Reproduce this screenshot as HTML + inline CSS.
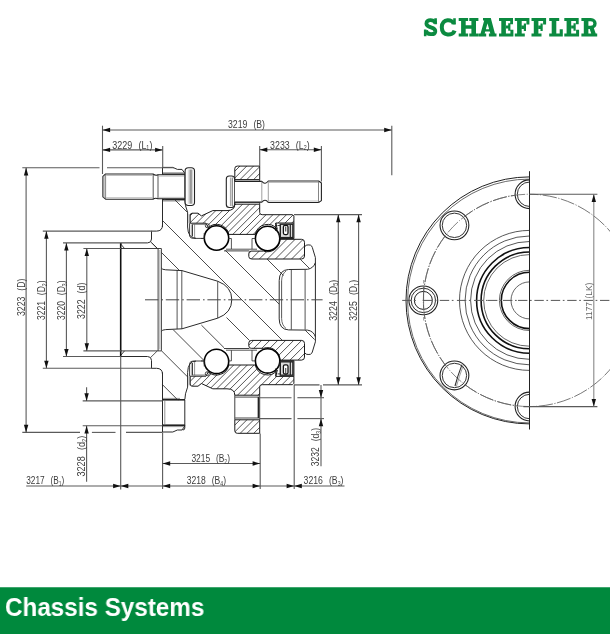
<!DOCTYPE html>
<html><head><meta charset="utf-8">
<style>
html,body{margin:0;padding:0;background:#fff;}
body{width:610px;height:634px;position:relative;overflow:hidden;font-family:"Liberation Sans",sans-serif;}
#foot{position:absolute;left:0;top:587px;width:610px;height:47px;background:#00893d;border-top:1px solid #40a66e;box-sizing:border-box;}
#foot span{position:absolute;left:5px;top:4px;color:#fff;font-weight:bold;font-size:26px;line-height:30px;white-space:nowrap;transform-origin:0 0;transform:scaleX(0.932);}
svg{position:absolute;left:0;top:0;}
#dwg text{opacity:0.999;}
#dwg{filter:blur(0.3px);}
#foot span{will-change:transform;}
</style></head><body>

<svg id="dwg" width="610" height="634" viewBox="0 0 610 634">
<defs>
<clipPath id="cu"><path d="M190.2,215.4 Q190.2,213.2 192.2,213.2 L198,213.2 L201.4,215.9 L212.8,210.6 L227,210.6 Q234.8,210.6 234.8,204.2 L259.7,204.2 L259.7,212.6 Q259.7,214.7 262.2,214.7 L292.5,214.7 L293.9,216.1 L293.9,223 L275.8,223 L277.3,229.3 A12.4,12.4 0 0 0 255.3,234.4 L228.8,234.4 A12.4,12.4 0 0 0 208.3,227.6 L206,223.2 L190.2,223.2 Z"/><path d="M234.8,179.6 L234.8,168.6 Q234.8,166.1 237.3,166.1 L259.7,166.1 L259.7,179.6 Z"/></clipPath>
<clipPath id="cl"><path transform="matrix(1 0 0 -1 0 599.4)" d="M190.2,215.4 Q190.2,213.2 192.2,213.2 L198,213.2 L201.4,215.9 L212.8,210.6 L227,210.6 Q234.8,210.6 234.8,204.2 L259.7,204.2 L259.7,212.6 Q259.7,214.7 262.2,214.7 L292.5,214.7 L293.9,216.1 L293.9,223 L275.8,223 L277.3,229.3 A12.4,12.4 0 0 0 255.3,234.4 L228.8,234.4 A12.4,12.4 0 0 0 208.3,227.6 L206,223.2 L190.2,223.2 Z"/><path transform="matrix(1 0 0 -1 0 599.4)" d="M234.8,179.6 L234.8,168.6 Q234.8,166.1 237.3,166.1 L259.7,166.1 L259.7,179.6 Z"/></clipPath>
<clipPath id="iu"><path d="M248.8,253.6 Q248.8,251.1 251.2,251.1 L263.5,251.1 A12.4,12.4 0 0 0 279.9,240.4 L280.2,239.3 L301.5,239.3 Q304.5,239.3 304.5,242.3 L304.5,256 Q304.5,259 301.5,259 L251.8,259 Q248.8,259 248.8,256.5 Z"/></clipPath>
<clipPath id="il"><path transform="matrix(1 0 0 -1 0 599.4)" d="M248.8,253.6 Q248.8,251.1 251.2,251.1 L263.5,251.1 A12.4,12.4 0 0 0 279.9,240.4 L280.2,239.3 L301.5,239.3 Q304.5,239.3 304.5,242.3 L304.5,256 Q304.5,259 301.5,259 L251.8,259 Q248.8,259 248.8,256.5 Z"/></clipPath>
</defs>
<g clip-path="url(#cu)" stroke="#2a2a2a" stroke-width="0.8">
<line x1="104.80" y1="240.00" x2="184.80" y2="160.00"/>
<line x1="111.60" y1="240.00" x2="191.60" y2="160.00"/>
<line x1="118.40" y1="240.00" x2="198.40" y2="160.00"/>
<line x1="125.20" y1="240.00" x2="205.20" y2="160.00"/>
<line x1="132.00" y1="240.00" x2="212.00" y2="160.00"/>
<line x1="138.80" y1="240.00" x2="218.80" y2="160.00"/>
<line x1="145.60" y1="240.00" x2="225.60" y2="160.00"/>
<line x1="152.40" y1="240.00" x2="232.40" y2="160.00"/>
<line x1="159.20" y1="240.00" x2="239.20" y2="160.00"/>
<line x1="166.00" y1="240.00" x2="246.00" y2="160.00"/>
<line x1="172.80" y1="240.00" x2="252.80" y2="160.00"/>
<line x1="179.60" y1="240.00" x2="259.60" y2="160.00"/>
<line x1="186.40" y1="240.00" x2="266.40" y2="160.00"/>
<line x1="193.20" y1="240.00" x2="273.20" y2="160.00"/>
<line x1="200.00" y1="240.00" x2="280.00" y2="160.00"/>
<line x1="206.80" y1="240.00" x2="286.80" y2="160.00"/>
<line x1="213.60" y1="240.00" x2="293.60" y2="160.00"/>
<line x1="220.40" y1="240.00" x2="300.40" y2="160.00"/>
<line x1="227.20" y1="240.00" x2="307.20" y2="160.00"/>
<line x1="234.00" y1="240.00" x2="314.00" y2="160.00"/>
<line x1="240.80" y1="240.00" x2="320.80" y2="160.00"/>
<line x1="247.60" y1="240.00" x2="327.60" y2="160.00"/>
<line x1="254.40" y1="240.00" x2="334.40" y2="160.00"/>
<line x1="261.20" y1="240.00" x2="341.20" y2="160.00"/>
<line x1="268.00" y1="240.00" x2="348.00" y2="160.00"/>
<line x1="274.80" y1="240.00" x2="354.80" y2="160.00"/>
<line x1="281.60" y1="240.00" x2="361.60" y2="160.00"/>
<line x1="288.40" y1="240.00" x2="368.40" y2="160.00"/>
<line x1="295.20" y1="240.00" x2="375.20" y2="160.00"/>
<line x1="302.00" y1="240.00" x2="382.00" y2="160.00"/>
</g>
<g clip-path="url(#cl)" stroke="#2a2a2a" stroke-width="0.8">
<line x1="104.30" y1="440.00" x2="184.30" y2="360.00"/>
<line x1="111.10" y1="440.00" x2="191.10" y2="360.00"/>
<line x1="117.90" y1="440.00" x2="197.90" y2="360.00"/>
<line x1="124.70" y1="440.00" x2="204.70" y2="360.00"/>
<line x1="131.50" y1="440.00" x2="211.50" y2="360.00"/>
<line x1="138.30" y1="440.00" x2="218.30" y2="360.00"/>
<line x1="145.10" y1="440.00" x2="225.10" y2="360.00"/>
<line x1="151.90" y1="440.00" x2="231.90" y2="360.00"/>
<line x1="158.70" y1="440.00" x2="238.70" y2="360.00"/>
<line x1="165.50" y1="440.00" x2="245.50" y2="360.00"/>
<line x1="172.30" y1="440.00" x2="252.30" y2="360.00"/>
<line x1="179.10" y1="440.00" x2="259.10" y2="360.00"/>
<line x1="185.90" y1="440.00" x2="265.90" y2="360.00"/>
<line x1="192.70" y1="440.00" x2="272.70" y2="360.00"/>
<line x1="199.50" y1="440.00" x2="279.50" y2="360.00"/>
<line x1="206.30" y1="440.00" x2="286.30" y2="360.00"/>
<line x1="213.10" y1="440.00" x2="293.10" y2="360.00"/>
<line x1="219.90" y1="440.00" x2="299.90" y2="360.00"/>
<line x1="226.70" y1="440.00" x2="306.70" y2="360.00"/>
<line x1="233.50" y1="440.00" x2="313.50" y2="360.00"/>
<line x1="240.30" y1="440.00" x2="320.30" y2="360.00"/>
<line x1="247.10" y1="440.00" x2="327.10" y2="360.00"/>
<line x1="253.90" y1="440.00" x2="333.90" y2="360.00"/>
<line x1="260.70" y1="440.00" x2="340.70" y2="360.00"/>
<line x1="267.50" y1="440.00" x2="347.50" y2="360.00"/>
<line x1="274.30" y1="440.00" x2="354.30" y2="360.00"/>
<line x1="281.10" y1="440.00" x2="361.10" y2="360.00"/>
<line x1="287.90" y1="440.00" x2="367.90" y2="360.00"/>
<line x1="294.70" y1="440.00" x2="374.70" y2="360.00"/>
<line x1="301.50" y1="440.00" x2="381.50" y2="360.00"/>
</g>
<g clip-path="url(#iu)" stroke="#2a2a2a" stroke-width="0.8">
<line x1="216.10" y1="262.00" x2="242.10" y2="236.00"/>
<line x1="224.15" y1="262.00" x2="250.15" y2="236.00"/>
<line x1="232.20" y1="262.00" x2="258.20" y2="236.00"/>
<line x1="240.25" y1="262.00" x2="266.25" y2="236.00"/>
<line x1="248.30" y1="262.00" x2="274.30" y2="236.00"/>
<line x1="256.35" y1="262.00" x2="282.35" y2="236.00"/>
<line x1="264.40" y1="262.00" x2="290.40" y2="236.00"/>
<line x1="272.45" y1="262.00" x2="298.45" y2="236.00"/>
<line x1="280.50" y1="262.00" x2="306.50" y2="236.00"/>
<line x1="288.55" y1="262.00" x2="314.55" y2="236.00"/>
<line x1="296.60" y1="262.00" x2="322.60" y2="236.00"/>
<line x1="304.65" y1="262.00" x2="330.65" y2="236.00"/>
<line x1="312.70" y1="262.00" x2="338.70" y2="236.00"/>
</g>
<g clip-path="url(#il)" stroke="#2a2a2a" stroke-width="0.8">
<line x1="214.10" y1="364.00" x2="240.10" y2="338.00"/>
<line x1="222.10" y1="364.00" x2="248.10" y2="338.00"/>
<line x1="230.10" y1="364.00" x2="256.10" y2="338.00"/>
<line x1="238.10" y1="364.00" x2="264.10" y2="338.00"/>
<line x1="246.10" y1="364.00" x2="272.10" y2="338.00"/>
<line x1="254.10" y1="364.00" x2="280.10" y2="338.00"/>
<line x1="262.10" y1="364.00" x2="288.10" y2="338.00"/>
<line x1="270.10" y1="364.00" x2="296.10" y2="338.00"/>
<line x1="278.10" y1="364.00" x2="304.10" y2="338.00"/>
<line x1="286.10" y1="364.00" x2="312.10" y2="338.00"/>
<line x1="294.10" y1="364.00" x2="320.10" y2="338.00"/>
<line x1="302.10" y1="364.00" x2="328.10" y2="338.00"/>
<line x1="310.10" y1="364.00" x2="336.10" y2="338.00"/>
</g>
<g id="up"><path d="M190.2,215.4 Q190.2,213.2 192.2,213.2 L198,213.2 L201.4,215.9 L212.8,210.6 L227,210.6 Q234.8,210.6 234.8,204.2 L259.7,204.2 L259.7,212.6 Q259.7,214.7 262.2,214.7 L292.5,214.7 L293.9,216.1 L293.9,223 L275.8,223 L277.3,229.3 A12.4,12.4 0 0 0 255.3,234.4 L228.8,234.4 A12.4,12.4 0 0 0 208.3,227.6 L206,223.2 L190.2,223.2 Z" stroke="#1a1a1a" stroke-width="1.0" fill="none" stroke-linejoin="round"/>
<path d="M234.8,179.6 L234.8,168.6 Q234.8,166.1 237.3,166.1 L259.7,166.1 L259.7,179.6 Z" stroke="#1a1a1a" stroke-width="1.0" fill="none" stroke-linejoin="round"/>
<line x1="259.7" y1="179.6" x2="259.7" y2="204.2" stroke="#2a2a2a" stroke-width="0.9"/>
<line x1="234.8" y1="179.6" x2="234.8" y2="204.2" stroke="#2a2a2a" stroke-width="0.9"/>
<line x1="234.8" y1="181.4" x2="259.7" y2="181.4" stroke="#666" stroke-width="1.2"/>
<line x1="234.8" y1="202.3" x2="259.7" y2="202.3" stroke="#666" stroke-width="1.2"/>
<line x1="258.4" y1="181.4" x2="258.4" y2="202.3" stroke="#222" stroke-width="1.5"/>
<path d="M248.8,253.6 Q248.8,251.1 251.2,251.1 L263.5,251.1 A12.4,12.4 0 0 0 279.9,240.4 L280.2,239.3 L301.5,239.3 Q304.5,239.3 304.5,242.3 L304.5,256 Q304.5,259 301.5,259 L251.8,259 Q248.8,259 248.8,256.5 Z" stroke="#1a1a1a" stroke-width="1.0" fill="none" stroke-linejoin="round"/>
<circle cx="216.5" cy="238.0" r="12.2" stroke="#000" stroke-width="1.6" fill="#fff"/>
<circle cx="267.6" cy="238.5" r="12.2" stroke="#000" stroke-width="1.6" fill="#fff"/>
<path d="M228.2,238.5 L231.4,238.5 L231.4,249.2 L226,249.2" stroke="#2a2a2a" stroke-width="0.8" fill="none" stroke-linejoin="round"/>
<path d="M255.4,238.5 L252,238.5 L252,249.2 L257,249.2" stroke="#2a2a2a" stroke-width="0.8" fill="none" stroke-linejoin="round"/>
<line x1="231.4" y1="249.2" x2="252" y2="249.2" stroke="#2a2a2a" stroke-width="0.8"/>
<line x1="224" y1="250.9" x2="249.3" y2="250.9" stroke="#2a2a2a" stroke-width="0.9"/>
<line x1="205" y1="238.5" x2="201" y2="238.5" stroke="#2a2a2a" stroke-width="0.8"/>
<path d="M204.2,238.5 L204.2,233" stroke="#2a2a2a" stroke-width="0.8" fill="none" stroke-linejoin="round"/>
<circle cx="207.3" cy="225.7" r="2.0" stroke="#2a2a2a" stroke-width="0.9" fill="none"/>
<path d="M189.6,223.2 L189.6,236 Q190,238.4 193.5,238.4 L204,238.4" stroke="#2a2a2a" stroke-width="0.9" fill="none" stroke-linejoin="round"/>
<line x1="192.3" y1="224.2" x2="192.3" y2="236.5" stroke="#333" stroke-width="1.3"/>
<line x1="194.6" y1="224.2" x2="194.6" y2="238.2" stroke="#666" stroke-width="0.7"/>
<line x1="192.3" y1="224.4" x2="205" y2="224.4" stroke="#555" stroke-width="0.7"/>
<path d="M275.8,223 L275.8,231 M279.5,238.6 L293.9,238.6 L293.9,223" stroke="#111" stroke-width="1.0" fill="none" stroke-linejoin="round"/>
<rect x="280.3" y="224.2" width="12.6" height="13.4" fill="#ddd" stroke="#222" stroke-width="1.4"/>
<rect x="283.4" y="225.4" width="4.6" height="9.2" rx="1.5" fill="#fff" stroke="#111" stroke-width="1.3"/>
<path d="M285.7,226.5 L285.7,231.5" stroke="#555" stroke-width="1.2"/>
<line x1="290.3" y1="224.5" x2="290.3" y2="237.5" stroke="#222" stroke-width="1.2"/>
<line x1="277.5" y1="225.5" x2="280.3" y2="225.5" stroke="#2a2a2a" stroke-width="0.9"/>
<line x1="278.5" y1="233" x2="280.5" y2="236.5" stroke="#2a2a2a" stroke-width="0.9"/>
<path d="M162.5,227 L162.5,167.4 L172.8,167.4 L177.4,169.4 L182,169.4 L185,173.6" stroke="#2a2a2a" stroke-width="1.0" fill="none" stroke-linejoin="round"/>
<path d="M162.5,174.2 L185,174.2" stroke="#222" stroke-width="1.6" fill="none" stroke-linejoin="round"/>
<path d="M162.5,199.6 L185,199.6" stroke="#222" stroke-width="1.6" fill="none" stroke-linejoin="round"/>
<line x1="163" y1="172.8" x2="184" y2="172.8" stroke="#888" stroke-width="0.9"/>
<line x1="163" y1="201" x2="180" y2="201" stroke="#888" stroke-width="0.9"/>
<line x1="164.8" y1="174.2" x2="164.8" y2="199.6" stroke="#777" stroke-width="0.8"/>
<path d="M184.9,200.2 L185.5,205.6 L187.6,212.3 L187.6,227 Q188,238.3 196,238.3" stroke="#2a2a2a" stroke-width="1.0" fill="none" stroke-linejoin="round"/>
<path d="M189.2,214 L189.2,223" stroke="#666" stroke-width="0.7" fill="none" stroke-linejoin="round"/>
<path d="M162.5,225 Q162.5,231.1 156.5,231.1 L151.5,231.1 L151.5,239 Q151.5,242.9 147.5,242.9 L121,242.9" stroke="#2a2a2a" stroke-width="1.0" fill="none" stroke-linejoin="round"/>
<path d="M120.7,244 L124.5,248.5 M120.7,248.5 L161.3,248.5" stroke="#2a2a2a" stroke-width="0.9" fill="none" stroke-linejoin="round"/>
<path d="M151,242.3 L157.2,248.4" stroke="#2a2a2a" stroke-width="0.8" fill="none" stroke-linejoin="round"/>
<path d="M304.6,246.8 Q306,244.7 308.1,244.9 L310.4,245.1 Q311.7,245.5 312.3,247.4 L315.4,257.6" stroke="#2a2a2a" stroke-width="1.0" fill="none" stroke-linejoin="round"/>
<path d="M315.4,262.6 Q313.6,268.3 307.5,269.3 L288.5,269.5 Q279.3,270 279.2,280.5" stroke="#2a2a2a" stroke-width="1.0" fill="none" stroke-linejoin="round"/>
<path d="M281.6,281 Q281.8,274 286,271" stroke="#444" stroke-width="0.8" fill="none" stroke-linejoin="round"/></g>
<g transform="matrix(1 0 0 -1 0 599.4)"><path d="M190.2,215.4 Q190.2,213.2 192.2,213.2 L198,213.2 L201.4,215.9 L212.8,210.6 L227,210.6 Q234.8,210.6 234.8,204.2 L259.7,204.2 L259.7,212.6 Q259.7,214.7 262.2,214.7 L292.5,214.7 L293.9,216.1 L293.9,223 L275.8,223 L277.3,229.3 A12.4,12.4 0 0 0 255.3,234.4 L228.8,234.4 A12.4,12.4 0 0 0 208.3,227.6 L206,223.2 L190.2,223.2 Z" stroke="#1a1a1a" stroke-width="1.0" fill="none" stroke-linejoin="round"/>
<path d="M234.8,179.6 L234.8,168.6 Q234.8,166.1 237.3,166.1 L259.7,166.1 L259.7,179.6 Z" stroke="#1a1a1a" stroke-width="1.0" fill="none" stroke-linejoin="round"/>
<line x1="259.7" y1="179.6" x2="259.7" y2="204.2" stroke="#2a2a2a" stroke-width="0.9"/>
<line x1="234.8" y1="179.6" x2="234.8" y2="204.2" stroke="#2a2a2a" stroke-width="0.9"/>
<line x1="234.8" y1="181.4" x2="259.7" y2="181.4" stroke="#666" stroke-width="1.2"/>
<line x1="234.8" y1="202.3" x2="259.7" y2="202.3" stroke="#666" stroke-width="1.2"/>
<line x1="258.4" y1="181.4" x2="258.4" y2="202.3" stroke="#222" stroke-width="1.5"/>
<path d="M248.8,253.6 Q248.8,251.1 251.2,251.1 L263.5,251.1 A12.4,12.4 0 0 0 279.9,240.4 L280.2,239.3 L301.5,239.3 Q304.5,239.3 304.5,242.3 L304.5,256 Q304.5,259 301.5,259 L251.8,259 Q248.8,259 248.8,256.5 Z" stroke="#1a1a1a" stroke-width="1.0" fill="none" stroke-linejoin="round"/>
<circle cx="216.5" cy="238.0" r="12.2" stroke="#000" stroke-width="1.6" fill="#fff"/>
<circle cx="267.6" cy="238.5" r="12.2" stroke="#000" stroke-width="1.6" fill="#fff"/>
<path d="M228.2,238.5 L231.4,238.5 L231.4,249.2 L226,249.2" stroke="#2a2a2a" stroke-width="0.8" fill="none" stroke-linejoin="round"/>
<path d="M255.4,238.5 L252,238.5 L252,249.2 L257,249.2" stroke="#2a2a2a" stroke-width="0.8" fill="none" stroke-linejoin="round"/>
<line x1="231.4" y1="249.2" x2="252" y2="249.2" stroke="#2a2a2a" stroke-width="0.8"/>
<line x1="224" y1="250.9" x2="249.3" y2="250.9" stroke="#2a2a2a" stroke-width="0.9"/>
<line x1="205" y1="238.5" x2="201" y2="238.5" stroke="#2a2a2a" stroke-width="0.8"/>
<path d="M204.2,238.5 L204.2,233" stroke="#2a2a2a" stroke-width="0.8" fill="none" stroke-linejoin="round"/>
<circle cx="207.3" cy="225.7" r="2.0" stroke="#2a2a2a" stroke-width="0.9" fill="none"/>
<path d="M189.6,223.2 L189.6,236 Q190,238.4 193.5,238.4 L204,238.4" stroke="#2a2a2a" stroke-width="0.9" fill="none" stroke-linejoin="round"/>
<line x1="192.3" y1="224.2" x2="192.3" y2="236.5" stroke="#333" stroke-width="1.3"/>
<line x1="194.6" y1="224.2" x2="194.6" y2="238.2" stroke="#666" stroke-width="0.7"/>
<line x1="192.3" y1="224.4" x2="205" y2="224.4" stroke="#555" stroke-width="0.7"/>
<path d="M275.8,223 L275.8,231 M279.5,238.6 L293.9,238.6 L293.9,223" stroke="#111" stroke-width="1.0" fill="none" stroke-linejoin="round"/>
<rect x="280.3" y="224.2" width="12.6" height="13.4" fill="#ddd" stroke="#222" stroke-width="1.4"/>
<rect x="283.4" y="225.4" width="4.6" height="9.2" rx="1.5" fill="#fff" stroke="#111" stroke-width="1.3"/>
<path d="M285.7,226.5 L285.7,231.5" stroke="#555" stroke-width="1.2"/>
<line x1="290.3" y1="224.5" x2="290.3" y2="237.5" stroke="#222" stroke-width="1.2"/>
<line x1="277.5" y1="225.5" x2="280.3" y2="225.5" stroke="#2a2a2a" stroke-width="0.9"/>
<line x1="278.5" y1="233" x2="280.5" y2="236.5" stroke="#2a2a2a" stroke-width="0.9"/>
<path d="M162.5,227 L162.5,167.4 L172.8,167.4 L177.4,169.4 L182,169.4 L185,173.6" stroke="#2a2a2a" stroke-width="1.0" fill="none" stroke-linejoin="round"/>
<path d="M162.5,174.2 L185,174.2" stroke="#222" stroke-width="1.6" fill="none" stroke-linejoin="round"/>
<path d="M162.5,199.6 L185,199.6" stroke="#222" stroke-width="1.6" fill="none" stroke-linejoin="round"/>
<line x1="163" y1="172.8" x2="184" y2="172.8" stroke="#888" stroke-width="0.9"/>
<line x1="163" y1="201" x2="180" y2="201" stroke="#888" stroke-width="0.9"/>
<line x1="164.8" y1="174.2" x2="164.8" y2="199.6" stroke="#777" stroke-width="0.8"/>
<path d="M184.9,200.2 L185.5,205.6 L187.6,212.3 L187.6,227 Q188,238.3 196,238.3" stroke="#2a2a2a" stroke-width="1.0" fill="none" stroke-linejoin="round"/>
<path d="M189.2,214 L189.2,223" stroke="#666" stroke-width="0.7" fill="none" stroke-linejoin="round"/>
<path d="M162.5,225 Q162.5,231.1 156.5,231.1 L151.5,231.1 L151.5,239 Q151.5,242.9 147.5,242.9 L121,242.9" stroke="#2a2a2a" stroke-width="1.0" fill="none" stroke-linejoin="round"/>
<path d="M120.7,244 L124.5,248.5 M120.7,248.5 L161.3,248.5" stroke="#2a2a2a" stroke-width="0.9" fill="none" stroke-linejoin="round"/>
<path d="M151,242.3 L157.2,248.4" stroke="#2a2a2a" stroke-width="0.8" fill="none" stroke-linejoin="round"/>
<path d="M304.6,246.8 Q306,244.7 308.1,244.9 L310.4,245.1 Q311.7,245.5 312.3,247.4 L315.4,257.6" stroke="#2a2a2a" stroke-width="1.0" fill="none" stroke-linejoin="round"/>
<path d="M315.4,262.6 Q313.6,268.3 307.5,269.3 L288.5,269.5 Q279.3,270 279.2,280.5" stroke="#2a2a2a" stroke-width="1.0" fill="none" stroke-linejoin="round"/>
<path d="M281.6,281 Q281.8,274 286,271" stroke="#444" stroke-width="0.8" fill="none" stroke-linejoin="round"/></g>
<line x1="120.70" y1="243.00" x2="120.70" y2="356.40" stroke="#111" stroke-width="1.6" />
<line x1="158.10" y1="248.50" x2="158.10" y2="350.90" stroke="#2a2a2a" stroke-width="0.9" />
<line x1="161.40" y1="248.50" x2="161.40" y2="350.90" stroke="#2a2a2a" stroke-width="0.9" />
<line x1="159.80" y1="250.00" x2="159.80" y2="349.40" stroke="#999" stroke-width="0.8" />
<path d="M161.4,268 Q162,269.6 165.7,269.8 L182,270.6 L217.6,281.2 Q231.8,286.5 231.8,299.7 Q231.8,312.9 217.6,318.2 L182,328.79999999999995 L165.7,329.59999999999997 Q162,329.79999999999995 161.4,331.4" stroke="#2a2a2a" stroke-width="1.0" fill="none" stroke-linejoin="round" />
<line x1="177.10" y1="270.40" x2="177.10" y2="329.00" stroke="#2a2a2a" stroke-width="0.8" />
<line x1="181.80" y1="270.60" x2="181.80" y2="328.80" stroke="#2a2a2a" stroke-width="0.8" />
<line x1="217.70" y1="281.20" x2="217.70" y2="318.20" stroke="#2a2a2a" stroke-width="0.8" />
<line x1="279.20" y1="280.50" x2="279.20" y2="318.90" stroke="#2a2a2a" stroke-width="1.0" />
<line x1="281.60" y1="281.00" x2="281.60" y2="318.40" stroke="#444" stroke-width="0.9" />
<line x1="291.30" y1="269.80" x2="291.30" y2="329.60" stroke="#2a2a2a" stroke-width="0.8" />
<line x1="305.10" y1="269.80" x2="305.10" y2="329.60" stroke="#2a2a2a" stroke-width="0.8" />
<line x1="315.40" y1="257.60" x2="315.40" y2="341.80" stroke="#2a2a2a" stroke-width="1.0" />
<line x1="174.60" y1="199.60" x2="187.60" y2="212.60" stroke="#2a2a2a" stroke-width="0.85" />
<line x1="225.30" y1="250.30" x2="279.20" y2="304.20" stroke="#2a2a2a" stroke-width="0.85" />
<line x1="267.00" y1="259.00" x2="283.50" y2="275.50" stroke="#2a2a2a" stroke-width="0.85" />
<line x1="300.40" y1="259.40" x2="309.40" y2="268.40" stroke="#2a2a2a" stroke-width="0.85" />
<line x1="305.20" y1="330.20" x2="314.60" y2="339.60" stroke="#2a2a2a" stroke-width="0.85" />
<line x1="162.50" y1="220.50" x2="282.30" y2="340.30" stroke="#2a2a2a" stroke-width="0.85" />
<line x1="151.50" y1="242.50" x2="157.50" y2="248.50" stroke="#2a2a2a" stroke-width="0.85" />
<line x1="161.40" y1="252.40" x2="179.40" y2="270.40" stroke="#2a2a2a" stroke-width="0.85" />
<line x1="226.50" y1="317.50" x2="249.50" y2="340.50" stroke="#2a2a2a" stroke-width="0.85" />
<line x1="201.40" y1="325.10" x2="224.00" y2="347.70" stroke="#2a2a2a" stroke-width="0.85" />
<line x1="173.20" y1="329.70" x2="204.20" y2="360.70" stroke="#2a2a2a" stroke-width="0.85" />
<line x1="161.60" y1="350.90" x2="187.60" y2="376.90" stroke="#2a2a2a" stroke-width="0.85" />
<line x1="162.50" y1="384.70" x2="178.00" y2="400.20" stroke="#2a2a2a" stroke-width="0.85" />
<path d="M184.8,399.8 L184.8,428 Q184.8,430 182.8,430" stroke="#2a2a2a" stroke-width="1.0" fill="none" stroke-linejoin="round" />
<path d="M105.6,174 L153,174 Q155.5,176 158,174.8 L185,174.8 L185,198.8 L158,198.8 Q155.5,197.5 153,199.2 L105.6,199.2 L102.9,196.8 L102.9,176.4 Z" stroke="#222" stroke-width="1.1" fill="#fff" stroke-linejoin="round" />
<line x1="105.60" y1="174.00" x2="105.60" y2="199.20" stroke="#666" stroke-width="0.8" />
<line x1="153.20" y1="174.30" x2="153.20" y2="199.00" stroke="#2a2a2a" stroke-width="0.8" />
<line x1="158.00" y1="174.80" x2="158.00" y2="198.80" stroke="#2a2a2a" stroke-width="0.8" />
<line x1="104.20" y1="175.50" x2="104.20" y2="198.00" stroke="#999" stroke-width="0.8" />
<line x1="106.20" y1="175.50" x2="152.60" y2="175.50" stroke="#b0b0b0" stroke-width="0.8" />
<line x1="106.20" y1="197.70" x2="152.60" y2="197.70" stroke="#b0b0b0" stroke-width="0.8" />
<line x1="158.60" y1="176.20" x2="184.40" y2="176.20" stroke="#b8b8b8" stroke-width="0.8" />
<line x1="158.60" y1="197.40" x2="184.40" y2="197.40" stroke="#b8b8b8" stroke-width="0.8" />
<rect x="185.1" y="167.7" width="9.4" height="37.8" rx="3.2" fill="#fff" stroke="#222" stroke-width="1.1"/>
<line x1="190.20" y1="169.50" x2="190.20" y2="203.80" stroke="#999" stroke-width="1.6" />
<line x1="191.80" y1="169.50" x2="191.80" y2="203.80" stroke="#555" stroke-width="0.8" />
<line x1="188.30" y1="169.50" x2="188.30" y2="203.80" stroke="#bbb" stroke-width="0.6" />
<rect x="226.3" y="176" width="8.3" height="31.5" rx="3" fill="#fff" stroke="#222" stroke-width="1.1"/>
<line x1="232.30" y1="177.50" x2="232.30" y2="206.00" stroke="#666" stroke-width="0.9" />
<line x1="230.60" y1="177.50" x2="230.60" y2="206.00" stroke="#aaa" stroke-width="1.4" />
<path d="M234.8,181.4 L261.8,181.4 Q263.5,183.4 265,183.2 Q266.5,183.4 268.3,181 L318.6,181 L321.4,183 L321.4,200.6 L318.6,202.5 L268.3,202.5 Q266.5,200.2 265,200.3 Q263.5,200.2 261.8,202.1 L234.8,202.1" stroke="#222" stroke-width="1.1" fill="#fff" stroke-linejoin="round" />
<line x1="318.50" y1="181.00" x2="318.50" y2="202.50" stroke="#666" stroke-width="0.8" />
<line x1="269.00" y1="182.50" x2="318.00" y2="182.50" stroke="#b0b0b0" stroke-width="0.8" />
<line x1="269.00" y1="201.00" x2="318.00" y2="201.00" stroke="#b0b0b0" stroke-width="0.8" />
<line x1="261.80" y1="181.40" x2="261.80" y2="202.10" stroke="#777" stroke-width="0.7" />
<line x1="268.30" y1="181.00" x2="268.30" y2="202.50" stroke="#777" stroke-width="0.7" />
<line x1="145.00" y1="299.80" x2="322.60" y2="299.80" stroke="#444" stroke-width="1.0" stroke-dasharray="13.4 3 1.6 2.8"/>
<line x1="102.50" y1="125.70" x2="102.50" y2="174.00" stroke="#5a5a5a" stroke-width="1.1" />
<line x1="391.80" y1="125.70" x2="391.80" y2="175.30" stroke="#5a5a5a" stroke-width="1.1" />
<line x1="102.50" y1="130.00" x2="391.80" y2="130.00" stroke="#5a5a5a" stroke-width="1.1" />
<polygon points="102.50,130.00 110.10,127.80 110.10,132.20" fill="#111"/>
<polygon points="391.80,130.00 384.20,132.20 384.20,127.80" fill="#111"/>
<text transform="translate(228.00,128.30)" font-family="Liberation Sans, sans-serif" font-size="10.8" fill="#3c3c3c" word-spacing="4.5" textLength="37.0" lengthAdjust="spacingAndGlyphs">3219 (B)</text>
<line x1="162.70" y1="146.00" x2="162.70" y2="167.40" stroke="#5a5a5a" stroke-width="1.1" />
<line x1="102.50" y1="149.90" x2="162.70" y2="149.90" stroke="#5a5a5a" stroke-width="1.1" />
<polygon points="102.50,149.90 110.10,147.70 110.10,152.10" fill="#111"/>
<polygon points="162.70,149.90 155.10,152.10 155.10,147.70" fill="#111"/>
<text transform="translate(112.20,148.50)" font-family="Liberation Sans, sans-serif" font-size="10.8" fill="#3c3c3c" word-spacing="4.5" textLength="40.2" lengthAdjust="spacingAndGlyphs">3229 (L<tspan font-size="6.5" dy="1.8">1</tspan><tspan dy="-1.8">)</tspan></text>
<line x1="259.70" y1="145.90" x2="259.70" y2="166.00" stroke="#5a5a5a" stroke-width="1.1" />
<line x1="321.40" y1="145.90" x2="321.40" y2="181.40" stroke="#5a5a5a" stroke-width="1.1" />
<line x1="259.70" y1="149.80" x2="321.40" y2="149.80" stroke="#5a5a5a" stroke-width="1.1" />
<polygon points="259.70,149.80 267.30,147.60 267.30,152.00" fill="#111"/>
<polygon points="321.40,149.80 313.80,152.00 313.80,147.60" fill="#111"/>
<text transform="translate(270.10,148.50)" font-family="Liberation Sans, sans-serif" font-size="10.8" fill="#3c3c3c" word-spacing="4.5" textLength="39.5" lengthAdjust="spacingAndGlyphs">3233 (L<tspan font-size="6.5" dy="1.8">2</tspan><tspan dy="-1.8">)</tspan></text>
<line x1="22.30" y1="167.80" x2="99.50" y2="167.80" stroke="#5a5a5a" stroke-width="1.1" />
<line x1="107.00" y1="167.80" x2="174.00" y2="167.80" stroke="#5a5a5a" stroke-width="1.1" />
<line x1="22.30" y1="432.40" x2="80.00" y2="432.40" stroke="#5a5a5a" stroke-width="1.1" />
<line x1="91.90" y1="432.40" x2="115.50" y2="432.40" stroke="#5a5a5a" stroke-width="1.1" />
<line x1="126.00" y1="432.40" x2="162.50" y2="432.40" stroke="#5a5a5a" stroke-width="1.1" />
<line x1="26.10" y1="167.80" x2="26.10" y2="432.40" stroke="#5a5a5a" stroke-width="1.1" />
<polygon points="26.10,167.80 28.30,175.40 23.90,175.40" fill="#111"/>
<polygon points="26.10,432.40 23.90,424.80 28.30,424.80" fill="#111"/>
<text transform="translate(24.50,316.00) rotate(-90)" font-family="Liberation Sans, sans-serif" font-size="10.8" fill="#3c3c3c" word-spacing="4.5" textLength="37.3" lengthAdjust="spacingAndGlyphs">3223 (D)</text>
<line x1="42.80" y1="231.10" x2="152.00" y2="231.10" stroke="#5a5a5a" stroke-width="1.1" />
<line x1="42.80" y1="368.30" x2="152.00" y2="368.30" stroke="#5a5a5a" stroke-width="1.1" />
<line x1="46.40" y1="231.10" x2="46.40" y2="368.30" stroke="#5a5a5a" stroke-width="1.1" />
<polygon points="46.40,231.10 48.60,238.70 44.20,238.70" fill="#111"/>
<polygon points="46.40,368.30 44.20,360.70 48.60,360.70" fill="#111"/>
<text transform="translate(44.80,320.00) rotate(-90)" font-family="Liberation Sans, sans-serif" font-size="10.8" fill="#3c3c3c" word-spacing="4.5" textLength="39.5" lengthAdjust="spacingAndGlyphs">3221 (D<tspan font-size="6.5" dy="1.8">2</tspan><tspan dy="-1.8">)</tspan></text>
<line x1="63.00" y1="242.90" x2="121.00" y2="242.90" stroke="#5a5a5a" stroke-width="1.1" />
<line x1="63.00" y1="356.50" x2="121.00" y2="356.50" stroke="#5a5a5a" stroke-width="1.1" />
<line x1="66.40" y1="242.90" x2="66.40" y2="356.50" stroke="#5a5a5a" stroke-width="1.1" />
<polygon points="66.40,242.90 68.60,250.50 64.20,250.50" fill="#111"/>
<polygon points="66.40,356.50 64.20,348.90 68.60,348.90" fill="#111"/>
<text transform="translate(64.80,320.00) rotate(-90)" font-family="Liberation Sans, sans-serif" font-size="10.8" fill="#3c3c3c" word-spacing="4.5" textLength="39.5" lengthAdjust="spacingAndGlyphs">3220 (D<tspan font-size="6.5" dy="1.8">3</tspan><tspan dy="-1.8">)</tspan></text>
<line x1="83.40" y1="248.50" x2="121.00" y2="248.50" stroke="#5a5a5a" stroke-width="1.1" />
<line x1="83.40" y1="350.90" x2="121.00" y2="350.90" stroke="#5a5a5a" stroke-width="1.1" />
<line x1="86.80" y1="248.50" x2="86.80" y2="350.90" stroke="#5a5a5a" stroke-width="1.1" />
<polygon points="86.80,248.50 89.00,256.10 84.60,256.10" fill="#111"/>
<polygon points="86.80,350.90 84.60,343.30 89.00,343.30" fill="#111"/>
<text transform="translate(85.20,318.90) rotate(-90)" font-family="Liberation Sans, sans-serif" font-size="10.8" fill="#3c3c3c" word-spacing="4.5" textLength="36.2" lengthAdjust="spacingAndGlyphs">3222 (d)</text>
<line x1="82.70" y1="400.90" x2="162.50" y2="400.90" stroke="#5a5a5a" stroke-width="1.1" />
<line x1="82.70" y1="425.80" x2="162.50" y2="425.80" stroke="#5a5a5a" stroke-width="1.1" />
<line x1="86.60" y1="387.20" x2="86.60" y2="400.90" stroke="#5a5a5a" stroke-width="1.1" />
<line x1="86.60" y1="425.80" x2="86.60" y2="481.70" stroke="#5a5a5a" stroke-width="1.1" />
<polygon points="86.60,400.90 84.40,393.30 88.80,393.30" fill="#111"/>
<polygon points="86.60,425.80 88.80,433.40 84.40,433.40" fill="#111"/>
<text transform="translate(85.00,476.50) rotate(-90)" font-family="Liberation Sans, sans-serif" font-size="10.8" fill="#3c3c3c" word-spacing="4.5" textLength="40.7" lengthAdjust="spacingAndGlyphs">3228 (d<tspan font-size="6.5" dy="1.8">2</tspan><tspan dy="-1.8">)</tspan></text>
<line x1="294.00" y1="214.60" x2="362.00" y2="214.60" stroke="#5a5a5a" stroke-width="1.3" />
<line x1="294.00" y1="384.90" x2="319.50" y2="384.90" stroke="#5a5a5a" stroke-width="1.3" />
<line x1="323.00" y1="384.90" x2="362.00" y2="384.90" stroke="#5a5a5a" stroke-width="1.3" />
<line x1="338.30" y1="214.60" x2="338.30" y2="384.90" stroke="#5a5a5a" stroke-width="1.1" />
<polygon points="338.30,214.60 340.50,222.20 336.10,222.20" fill="#111"/>
<polygon points="338.30,384.90 336.10,377.30 340.50,377.30" fill="#111"/>
<line x1="358.60" y1="214.60" x2="358.60" y2="384.90" stroke="#5a5a5a" stroke-width="1.1" />
<polygon points="358.60,214.60 360.80,222.20 356.40,222.20" fill="#111"/>
<polygon points="358.60,384.90 356.40,377.30 360.80,377.30" fill="#111"/>
<text transform="translate(336.60,320.80) rotate(-90)" font-family="Liberation Sans, sans-serif" font-size="10.8" fill="#3c3c3c" word-spacing="4.5" textLength="40.9" lengthAdjust="spacingAndGlyphs">3224 (D<tspan font-size="6.5" dy="1.8">5</tspan><tspan dy="-1.8">)</tspan></text>
<text transform="translate(357.00,320.80) rotate(-90)" font-family="Liberation Sans, sans-serif" font-size="10.8" fill="#3c3c3c" word-spacing="4.5" textLength="40.9" lengthAdjust="spacingAndGlyphs">3225 (D<tspan font-size="6.5" dy="1.8">1</tspan><tspan dy="-1.8">)</tspan></text>
<line x1="321.00" y1="384.90" x2="321.00" y2="466.30" stroke="#5a5a5a" stroke-width="1.1" />
<polygon points="321.00,397.70 318.80,390.10 323.20,390.10" fill="#111"/>
<polygon points="321.00,418.60 323.20,426.20 318.80,426.20" fill="#111"/>
<line x1="259.70" y1="397.70" x2="291.50" y2="397.70" stroke="#5a5a5a" stroke-width="1.1" />
<line x1="297.40" y1="397.70" x2="324.00" y2="397.70" stroke="#5a5a5a" stroke-width="1.1" />
<line x1="259.70" y1="418.60" x2="291.50" y2="418.60" stroke="#5a5a5a" stroke-width="1.1" />
<line x1="297.40" y1="418.60" x2="324.00" y2="418.60" stroke="#5a5a5a" stroke-width="1.1" />
<text transform="translate(319.40,466.30) rotate(-90)" font-family="Liberation Sans, sans-serif" font-size="10.8" fill="#3c3c3c" word-spacing="4.5" textLength="38.3" lengthAdjust="spacingAndGlyphs">3232 (d<tspan font-size="6.5" dy="1.8">3</tspan><tspan dy="-1.8">)</tspan></text>
<line x1="120.70" y1="356.40" x2="120.70" y2="489.60" stroke="#5a5a5a" stroke-width="1.1" />
<line x1="162.60" y1="432.40" x2="162.60" y2="489.00" stroke="#5a5a5a" stroke-width="1.1" />
<line x1="260.20" y1="433.50" x2="260.20" y2="489.00" stroke="#5a5a5a" stroke-width="1.1" />
<line x1="294.20" y1="385.00" x2="294.20" y2="489.00" stroke="#5a5a5a" stroke-width="1.1" />
<line x1="162.60" y1="463.50" x2="260.20" y2="463.50" stroke="#5a5a5a" stroke-width="1.1" />
<polygon points="162.60,463.50 170.20,461.30 170.20,465.70" fill="#111"/>
<polygon points="260.20,463.50 252.60,465.70 252.60,461.30" fill="#111"/>
<text transform="translate(191.40,461.70)" font-family="Liberation Sans, sans-serif" font-size="10.8" fill="#3c3c3c" word-spacing="4.5" textLength="38.6" lengthAdjust="spacingAndGlyphs">3215 (B<tspan font-size="6.5" dy="1.8">2</tspan><tspan dy="-1.8">)</tspan></text>
<line x1="26.20" y1="486.00" x2="344.50" y2="486.00" stroke="#5a5a5a" stroke-width="1.1" />
<polygon points="120.70,486.00 113.10,488.20 113.10,483.80" fill="#111"/>
<polygon points="120.70,486.00 128.30,483.80 128.30,488.20" fill="#111"/>
<polygon points="162.60,486.00 170.20,483.80 170.20,488.20" fill="#111"/>
<polygon points="260.20,486.00 252.60,488.20 252.60,483.80" fill="#111"/>
<polygon points="294.20,486.00 286.60,488.20 286.60,483.80" fill="#111"/>
<polygon points="294.20,486.00 301.80,483.80 301.80,488.20" fill="#111"/>
<text transform="translate(26.20,484.30)" font-family="Liberation Sans, sans-serif" font-size="10.8" fill="#3c3c3c" word-spacing="4.5" textLength="38.1" lengthAdjust="spacingAndGlyphs">3217 (B<tspan font-size="6.5" dy="1.8">1</tspan><tspan dy="-1.8">)</tspan></text>
<text transform="translate(186.70,484.30)" font-family="Liberation Sans, sans-serif" font-size="10.8" fill="#3c3c3c" word-spacing="4.5" textLength="39.3" lengthAdjust="spacingAndGlyphs">3218 (B<tspan font-size="6.5" dy="1.8">4</tspan><tspan dy="-1.8">)</tspan></text>
<text transform="translate(303.60,484.30)" font-family="Liberation Sans, sans-serif" font-size="10.8" fill="#3c3c3c" word-spacing="4.5" textLength="39.9" lengthAdjust="spacingAndGlyphs">3216 (B<tspan font-size="6.5" dy="1.8">3</tspan><tspan dy="-1.8">)</tspan></text>
<defs><clipPath id="rc"><rect x="390" y="160" width="139.50" height="290"/></clipPath></defs>
<g clip-path="url(#rc)">
<circle cx="529.50" cy="300.40" r="123.50" stroke="#222" stroke-width="1.0" fill="none" />
<circle cx="529.50" cy="301.00" r="121.90" stroke="#444" stroke-width="0.8" fill="none" />
<circle cx="529.50" cy="300.40" r="70.00" stroke="#444" stroke-width="0.9" fill="none" />
<circle cx="529.50" cy="300.40" r="64.40" stroke="#444" stroke-width="0.9" fill="none" />
<circle cx="529.50" cy="300.40" r="58.90" stroke="#444" stroke-width="0.9" fill="none" />
<circle cx="529.50" cy="300.40" r="52.90" stroke="#111" stroke-width="1.6" fill="none" />
<circle cx="529.50" cy="300.40" r="48.40" stroke="#111" stroke-width="1.6" fill="none" />
<circle cx="529.50" cy="300.40" r="45.80" stroke="#555" stroke-width="0.9" fill="none" />
<circle cx="529.50" cy="300.40" r="30.10" stroke="#555" stroke-width="0.9" fill="none" />
<circle cx="529.50" cy="300.40" r="28.20" stroke="#111" stroke-width="1.6" fill="none" />
<circle cx="529.50" cy="300.40" r="18.50" stroke="#555" stroke-width="0.9" fill="none" />
<circle cx="529.50" cy="300.40" r="106.15" stroke="#555" stroke-width="0.8" fill="none" stroke-dasharray="14.3 1.5 1.2 1.5"/>
<circle cx="529.50" cy="194.25" r="14.40" stroke="#222" stroke-width="1.1" fill="#fff" />
<circle cx="529.50" cy="194.25" r="12.20" stroke="#333" stroke-width="1.0" fill="none" />
<circle cx="454.44" cy="225.34" r="14.40" stroke="#222" stroke-width="1.1" fill="#fff" />
<circle cx="454.44" cy="225.34" r="12.20" stroke="#333" stroke-width="1.0" fill="none" />
<circle cx="423.35" cy="300.40" r="14.40" stroke="#222" stroke-width="1.1" fill="#fff" />
<circle cx="423.35" cy="300.40" r="12.20" stroke="#333" stroke-width="1.0" fill="none" />
<circle cx="423.35" cy="300.40" r="9.00" stroke="#222" stroke-width="1.0" fill="none" />
<circle cx="454.44" cy="375.46" r="14.40" stroke="#222" stroke-width="1.1" fill="#fff" />
<circle cx="454.44" cy="375.46" r="12.20" stroke="#333" stroke-width="1.0" fill="none" />
<circle cx="529.50" cy="406.55" r="14.40" stroke="#222" stroke-width="1.1" fill="#fff" />
<circle cx="529.50" cy="406.55" r="12.20" stroke="#333" stroke-width="1.0" fill="none" />
</g>
<g clip-path="url(#rc)">
<circle cx="529.50" cy="300.40" r="106.15" stroke="#666" stroke-width="0.8" fill="none" stroke-dasharray="14.3 1.5 1.2 1.5"/>
</g>
<path d="M462,364.6 Q457.6,376 455,386" stroke="#333" stroke-width="1.1" fill="none" stroke-linejoin="round" />
<path d="M463.2,365.6 Q459,377 456.4,386.4" stroke="#777" stroke-width="0.7" fill="none" stroke-linejoin="round" />
<line x1="529.50" y1="171.20" x2="529.50" y2="429.50" stroke="#222" stroke-width="1.0" />
<defs><clipPath id="rc2"><rect x="529.5" y="160" width="80.5" height="290"/></clipPath></defs>
<g clip-path="url(#rc2)">
<circle cx="529.50" cy="300.40" r="106.15" stroke="#555" stroke-width="0.8" fill="none" stroke-dasharray="14.3 1.5 1.2 1.5" stroke-dashoffset="5"/>
</g>
<line x1="402.20" y1="300.40" x2="411.60" y2="300.40" stroke="#555" stroke-width="1.0" />
<line x1="414.20" y1="300.40" x2="415.90" y2="300.40" stroke="#555" stroke-width="1.0" />
<line x1="422.70" y1="300.40" x2="432.10" y2="300.40" stroke="#555" stroke-width="1.0" />
<line x1="434.70" y1="300.40" x2="436.40" y2="300.40" stroke="#555" stroke-width="1.0" />
<line x1="439.80" y1="300.40" x2="449.20" y2="300.40" stroke="#555" stroke-width="1.0" />
<line x1="451.80" y1="300.40" x2="453.50" y2="300.40" stroke="#555" stroke-width="1.0" />
<line x1="456.90" y1="300.40" x2="466.30" y2="300.40" stroke="#555" stroke-width="1.0" />
<line x1="468.90" y1="300.40" x2="470.60" y2="300.40" stroke="#555" stroke-width="1.0" />
<line x1="474.00" y1="300.40" x2="483.40" y2="300.40" stroke="#555" stroke-width="1.0" />
<line x1="486.00" y1="300.40" x2="487.70" y2="300.40" stroke="#555" stroke-width="1.0" />
<line x1="488.00" y1="300.40" x2="497.40" y2="300.40" stroke="#555" stroke-width="1.0" />
<line x1="500.00" y1="300.40" x2="501.70" y2="300.40" stroke="#555" stroke-width="1.0" />
<line x1="503.00" y1="300.40" x2="512.40" y2="300.40" stroke="#555" stroke-width="1.0" />
<line x1="515.00" y1="300.40" x2="516.70" y2="300.40" stroke="#555" stroke-width="1.0" />
<line x1="518.00" y1="300.40" x2="527.40" y2="300.40" stroke="#555" stroke-width="1.0" />
<line x1="530.00" y1="300.40" x2="531.70" y2="300.40" stroke="#555" stroke-width="1.0" />
<line x1="534.40" y1="300.40" x2="543.80" y2="300.40" stroke="#555" stroke-width="1.0" />
<line x1="546.40" y1="300.40" x2="548.10" y2="300.40" stroke="#555" stroke-width="1.0" />
<line x1="550.80" y1="300.40" x2="560.20" y2="300.40" stroke="#555" stroke-width="1.0" />
<line x1="562.80" y1="300.40" x2="564.50" y2="300.40" stroke="#555" stroke-width="1.0" />
<line x1="567.20" y1="300.40" x2="576.60" y2="300.40" stroke="#555" stroke-width="1.0" />
<line x1="579.20" y1="300.40" x2="580.90" y2="300.40" stroke="#555" stroke-width="1.0" />
<line x1="583.60" y1="300.40" x2="593.00" y2="300.40" stroke="#555" stroke-width="1.0" />
<line x1="595.60" y1="300.40" x2="597.30" y2="300.40" stroke="#555" stroke-width="1.0" />
<line x1="600.00" y1="300.40" x2="609.40" y2="300.40" stroke="#555" stroke-width="1.0" />
<line x1="423.60" y1="286.60" x2="423.60" y2="308.80" stroke="#555" stroke-width="0.8" />
<line x1="423.60" y1="280.00" x2="423.60" y2="283.50" stroke="#777" stroke-width="0.7" />
<line x1="423.60" y1="317.00" x2="423.60" y2="320.50" stroke="#777" stroke-width="0.7" />
<line x1="529.50" y1="194.30" x2="597.40" y2="194.30" stroke="#5a5a5a" stroke-width="1.1" />
<line x1="523.40" y1="406.60" x2="597.40" y2="406.60" stroke="#5a5a5a" stroke-width="1.1" />
<line x1="593.80" y1="194.30" x2="593.80" y2="406.60" stroke="#888" stroke-width="1.1" />
<polygon points="593.80,194.30 596.00,201.90 591.60,201.90" fill="#111"/>
<polygon points="593.80,406.60 591.60,399.00 596.00,399.00" fill="#111"/>
<text transform="translate(592.30,320.00) rotate(-90)" font-family="Liberation Sans, sans-serif" font-size="9.8" fill="#666" word-spacing="1.5" textLength="37.3" lengthAdjust="spacingAndGlyphs">1177 (LK)</text>
<g id="lg"><path d="M434.30,18.30H436.90V24.20H434.30Z M423.90,29.50H426.50V36.30H423.90Z M453.20,18.30H455.80V24.60H453.20Z M458.70,18.00H468.10V20.90H458.70Z M458.70,33.60H468.10V36.50H458.70Z M461.10,18.00H465.70V36.50H461.10Z M469.30,18.00H478.40V20.90H469.30Z M469.30,33.60H478.40V36.50H469.30Z M471.40,18.00H476.00V36.50H471.40Z M465.70,25.30H471.70V28.70H465.70Z M478.60,33.60H486.20V36.50H478.60Z M488.90,33.60H496.50V36.50H488.90Z M484.90,18.00 L489.00,18.00 L484.60,33.70 L480.50,33.70Z M486.00,18.00 L490.80,18.00 L495.00,33.70 L490.40,33.70Z M483.00,18.00H487.60V20.60H483.00Z M483.60,29.20H492.10V31.60H483.60Z M501.30,18.00H505.90V36.50H501.30Z M499.00,18.00H513.00V21.10H499.00Z M510.20,18.00H513.00V24.20H510.20Z M499.00,33.40H513.40V36.50H499.00Z M510.40,29.70H513.40V36.50H510.40Z M506.00,25.40H510.20V28.60H506.00Z M508.20,23.20H510.40V30.80H508.20Z M517.10,18.00H521.70V36.50H517.10Z M514.80,18.00H529.40V21.10H514.80Z M526.40,18.00H529.40V24.40H526.40Z M514.80,33.60H524.80V36.50H514.80Z M521.80,25.60H525.80V28.90H521.80Z M523.80,23.40H526.00V31.00H523.80Z M533.80,18.00H538.40V36.50H533.80Z M531.50,18.00H546.10V21.10H531.50Z M543.10,18.00H546.10V24.40H543.10Z M531.50,33.60H541.50V36.50H531.50Z M538.50,25.60H542.50V28.90H538.50Z M540.50,23.40H542.70V31.00H540.50Z M551.70,18.00H556.30V36.50H551.70Z M549.20,18.00H559.20V20.90H549.20Z M549.20,33.40H562.80V36.50H549.20Z M559.70,29.30H562.80V36.50H559.70Z M566.60,18.00H571.20V36.50H566.60Z M564.30,18.00H578.70V21.10H564.30Z M575.90,18.00H578.70V24.20H575.90Z M564.30,33.40H579.10V36.50H564.30Z M576.10,29.70H579.10V36.50H576.10Z M571.30,25.40H575.50V28.60H571.30Z M573.50,23.20H575.70V30.80H573.50Z M583.80,18.00H588.40V36.50H583.80Z M581.40,18.00H589.40V20.90H581.40Z M581.40,33.60H591.40V36.50H581.40Z M589.00,27.00 L593.20,26.20 L595.80,33.70 L591.30,33.70Z M591.00,33.60H597.20V36.50H591.00Z" fill="#0b8a40"/><path d="M435.3,23.6 C434.9,19.6 426.3,18.6 426.4,23.6 C426.5,28.6 436.0,26.2 435.3,31.6 C434.7,35.3 426.7,35.2 425.9,30.4" fill="none" stroke="#0b8a40" stroke-width="3.8" stroke-linecap="butt"/><path d="M453.7,24.2 C452.9,18.9 441.79999999999995,17.8 441.79999999999995,27.3 C441.79999999999995,36.6 453.0,36.0 454.59999999999997,30.6" fill="none" stroke="#0b8a40" stroke-width="4.0" stroke-linecap="butt"/><path d="M587.4,19.6 H590.8 C596.4,19.6 596.4,27.3 590.8,27.3 H587.4" fill="none" stroke="#0b8a40" stroke-width="3.3" stroke-linecap="butt"/></g>
</svg>
<div id="foot"><span>Chassis Systems</span></div>
</body></html>
